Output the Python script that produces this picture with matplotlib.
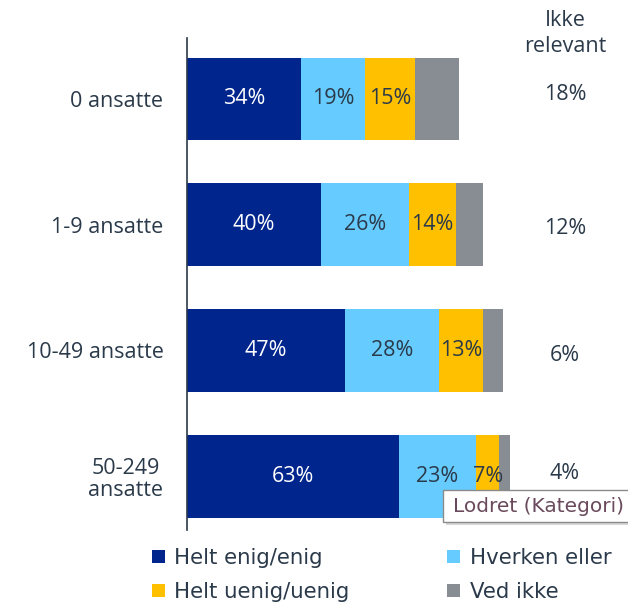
import matplotlib
matplotlib.use('Agg')
import matplotlib.pyplot as plt
from matplotlib.patches import Rectangle

# data
categories = ['0 ansatte', '1-9 ansatte', '10-49 ansatte', '50-249\nansatte']
enig = [34, 40, 47, 63]
hverken = [19, 26, 28, 23]
uenig = [15, 14, 13, 7]
ved_ikke = [13, 8, 6, 3]
ikke_relevant = [18, 12, 6, 4]

series_names = ['Helt enig/enig', 'Hverken eller', 'Helt uenig/uenig', 'Ved ikke']
colors = ['#00268E', '#66CCFF', '#FFC000', '#878D92']
label_colors = ['white', '#2B3A4A', '#2B3A4A', None]
txt = '#2B3A4A'
fnt = 'Open Sans'
fs = 15.5

W, H = 628, 605
px_row = 125.7  # pixels between bar centres
fig = plt.figure(figsize=(W / 100, H / 100), dpi=100)
# axis line runs from y=38 to y=530 px, starts at x=187 px, 3.36 px per %
ax = fig.add_axes([187 / W, 1 - 530 / H, 336 / W, 492 / H])

rows = list(range(len(categories)))
left = [0] * len(rows)
bars = []
for vals, name, col, lc in zip([enig, hverken, uenig, ved_ikke], series_names, colors, label_colors):
    b = ax.barh(rows, vals, left=left, height=0.66, color=col, label=name)
    bars.append(b)
    if lc is not None:
        for r, v, l in zip(rows, vals, left):
            ax.text(l + v / 2, r, '%d%%' % v, ha='center', va='center',
                    color=lc, fontsize=fs, family=fnt)
    left = [l + v for l, v in zip(left, vals)]

# "Ikke relevant" column (the labels sit a little off the bar centres)
xcol = (565 - 187) / 3.36
row_shift = [-4, 4, 5, -3]
for r, v, sh in zip(rows, ikke_relevant, row_shift):
    ax.text(xcol, r + sh / px_row, '%d%%' % v, ha='center', va='center',
            color=txt, fontsize=fs, family=fnt, clip_on=False)
ax.text(xcol, (20 - 99) / px_row, 'Ikke', ha='center', va='center', color=txt,
        fontsize=fs, family=fnt, clip_on=False)
ax.text(xcol, (47 - 99) / px_row, 'relevant', ha='center', va='center', color=txt,
        fontsize=fs, family=fnt, clip_on=False)

ax.set_xlim(0, 100)
ax.set_ylim((530 - 99) / px_row, (38 - 99) / px_row)
ax.set_yticks(rows)
ax.set_yticklabels(categories, fontsize=fs, family=fnt, color=txt)
for lab in ax.get_yticklabels():
    lab.set_multialignment('center')
    lab.set_linespacing(1.1)
ax.tick_params(axis='y', length=0, pad=17)
ax.set_xticks([])
for s in ['top', 'right', 'bottom']:
    ax.spines[s].set_visible(False)
ax.spines['left'].set_color(txt)
ax.spines['left'].set_linewidth(1.2)

# legend, column order: enig, uenig | hverken, ved ikke
order = [0, 2, 1, 3]
fig.legend([bars[i] for i in order], [series_names[i] for i in order],
           ncol=2, loc='center left', bbox_to_anchor=(133 / W, 1 - 575 / H),
           frameon=False, fontsize=15.3, handlelength=0.6, handleheight=0.6,
           handletextpad=0.45, columnspacing=4.6, labelspacing=0.65,
           labelcolor=txt)

# Excel tooltip left in the screenshot
fig.patches.append(Rectangle((446 / W, 1 - 525 / H), 190 / W, 32 / H,
                             transform=fig.transFigure, facecolor='#D8D8D8',
                             edgecolor='none', zorder=5))
fig.patches.append(Rectangle((443 / W, 1 - 522 / H), 190 / W, 32 / H,
                             transform=fig.transFigure, facecolor='white',
                             edgecolor='#8A8A8A', linewidth=1, zorder=6))
fig.text(453 / W, 1 - 507 / H, 'Lodret (Kategori)', ha='left', va='center',
         color='#6A4A5C', fontsize=14.5, family='DejaVu Sans', zorder=7)

fig.savefig('out.png', dpi=100)
